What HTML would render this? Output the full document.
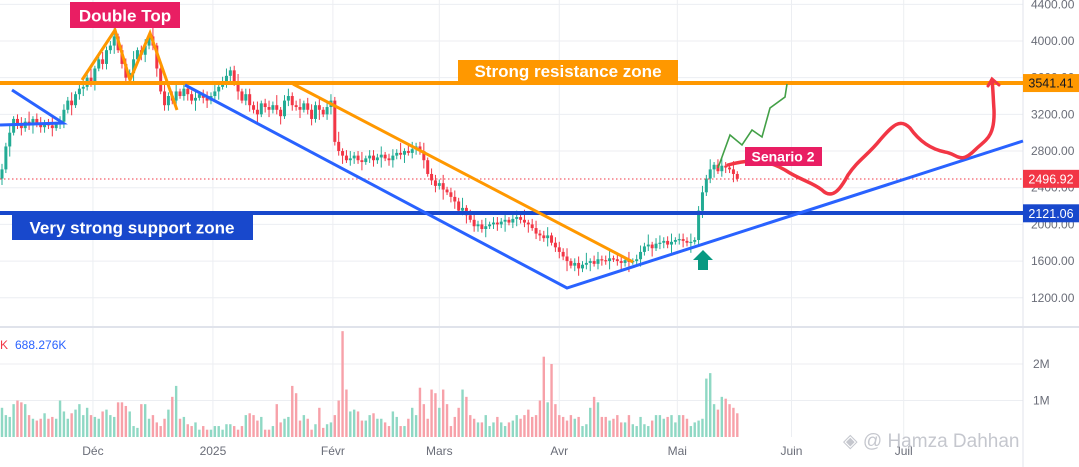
<!DOCTYPE html>
<html><head><meta charset="utf-8">
<style>
body{margin:0;background:#fff;font-family:"Liberation Sans",sans-serif;}
svg{display:block}
.ax{font-size:12px;fill:#6a6d78}
</style></head>
<body>
<svg id="chart" width="1079" height="467" viewBox="0 0 1079 467">
<g id="grid"></g>
<g id="vol"></g>
<g id="candles"></g>
<g>
  <line x1="0" y1="83" x2="1023" y2="83" stroke="#ff9800" stroke-width="4"/>
  <line x1="0" y1="213" x2="1023" y2="213" stroke="#1848cc" stroke-width="4"/>
  <line x1="0" y1="179" x2="1023" y2="179" stroke="#f23645" stroke-width="1" stroke-dasharray="1.5,2.5"/>
  <polyline points="12,90 63,123 0,125" fill="none" stroke="#2962ff" stroke-width="3"/>
  <polyline points="82,80 115,30 130,80 150,33 177,110" fill="none" stroke="#ff9800" stroke-width="3"/>
  <polyline points="185,85 567,288 1023,141" fill="none" stroke="#2962ff" stroke-width="3"/>
  <line x1="293" y1="84" x2="633" y2="262" stroke="#ff9800" stroke-width="3"/>
  <polyline points="718,168 730,135 742,145 752,130 762,137 770,108 785,97 787,84" fill="none" stroke="#43a047" stroke-width="1.6"/>
  <path d="M728,165 C745,160 765,158 785,170 C800,180 812,182 822,190 C832,200 840,190 848,175 C858,160 868,155 880,140 C893,125 900,118 910,128 C922,145 935,150 945,152 C958,154 960,165 975,150 C985,140 995,138 994,110 C993,95 993,88 992,80" fill="none" stroke="#f23645" stroke-width="3.5" stroke-linecap="round"/>
  <polyline points="988,86 992,79 999,85" fill="none" stroke="#f23645" stroke-width="3" stroke-linecap="round"/>
  <polygon points="703,250 713,260 708,260 708,270 698,270 698,260 693,260" fill="#089981"/>
  <rect x="70" y="2" width="110" height="26" fill="#e91e63"/>
  <text x="125" y="21.5" text-anchor="middle" font-size="17" font-weight="bold" fill="#fff">Double Top</text>
  <rect x="458" y="60" width="220" height="22" fill="#ff9800"/>
  <text x="568" y="77" text-anchor="middle" font-size="17" font-weight="bold" fill="#fff">Strong resistance zone</text>
  <rect x="12" y="214" width="241" height="26" fill="#1848cc"/>
  <text x="132" y="233.5" text-anchor="middle" font-size="17" font-weight="bold" fill="#fff">Very strong support zone</text>
  <rect x="745" y="147" width="77" height="19" fill="#e91e63"/>
  <text x="783" y="161.5" text-anchor="middle" font-size="14" font-weight="bold" fill="#fff">Senario 2</text>
</g>
<g id="axis"></g>
<text x="0" y="349" font-size="12" fill="#f23645">K</text>
<text x="15" y="349" font-size="12" fill="#2962ff">688.276K</text>
<text x="843" y="447" font-size="19" fill="#b2b5be" opacity="0.75">◈ @ Hamza Dahhan</text>
</svg>
<script>
const closes=[2600,2850,3000,3150,3100,3050,3120,3080,3150,3090,3060,3100,3080,3050,3090,3120,3250,3350,3300,3420,3480,3500,3600,3550,3700,3800,3750,3900,3950,4050,3900,3750,3600,3650,3800,3900,3850,3950,4050,3950,3700,3450,3300,3400,3350,3450,3400,3480,3420,3350,3380,3420,3380,3350,3400,3450,3500,3550,3620,3680,3550,3450,3350,3420,3300,3250,3200,3320,3280,3250,3300,3250,3180,3350,3400,3300,3280,3250,3320,3250,3150,3300,3250,3200,3280,3350,2900,2800,2750,2700,2720,2750,2700,2680,2720,2750,2700,2730,2760,2720,2700,2750,2780,2760,2800,2780,2820,2850,2800,2700,2550,2480,2420,2450,2380,2350,2300,2250,2150,2180,2100,2050,1980,2000,1950,1980,2000,2020,2000,2030,2050,2020,2060,2080,2050,2020,2000,1960,1900,1880,1850,1880,1800,1750,1700,1650,1600,1550,1580,1520,1560,1580,1600,1570,1620,1610,1600,1630,1620,1600,1580,1610,1590,1600,1620,1700,1760,1780,1740,1790,1800,1820,1780,1810,1830,1840,1820,1800,1810,1830,2150,2350,2500,2600,2650,2580,2640,2620,2600,2550,2497];
const wicks=[60,40,90,30,50,70,40,110,30,60,80,40,50,90,30,60];
const volumes=[0.8,0.6,0.55,0.9,1.0,0.95,0.9,0.6,0.5,0.45,0.5,0.65,0.5,0.55,0.5,1.0,0.7,0.5,0.65,0.75,0.9,0.6,0.8,0.6,0.55,0.5,0.7,0.75,0.6,0.55,0.95,0.95,0.85,0.7,0.3,0.25,0.9,0.9,0.5,0.6,0.4,0.3,0.5,0.75,1.1,1.4,0.5,0.55,0.35,0.3,0.4,0.2,0.3,0.2,0.2,0.3,0.3,0.2,0.35,0.35,0.3,0.2,0.3,0.6,0.65,0.6,0.45,0.55,0.2,0.2,0.3,0.9,0.4,0.5,0.55,1.4,1.2,0.45,0.6,0.5,0.2,0.35,0.8,0.25,0.35,0.4,0.6,1.0,2.9,1.3,0.7,0.75,0.7,0.45,0.45,0.6,0.65,0.5,0.5,0.4,0.3,0.7,0.55,0.3,0.3,0.5,0.8,0.6,1.35,0.9,0.5,1.3,1.2,0.8,1.3,0.9,0.3,0.55,0.8,1.3,1.1,0.6,0.5,0.4,0.4,0.6,0.3,0.4,0.55,0.4,0.3,0.4,0.45,0.6,0.5,0.6,0.75,0.55,0.6,1.0,2.2,0.95,2.0,0.9,0.6,0.55,0.45,0.6,0.5,0.55,0.3,0.35,0.8,1.1,0.95,0.55,0.55,0.45,0.5,0.6,0.4,0.4,0.6,0.35,0.3,0.55,0.35,0.3,0.45,0.6,0.6,0.5,0.55,0.6,0.4,0.6,0.6,0.5,0.3,0.4,0.45,0.5,1.6,1.75,0.9,0.75,1.1,1.05,0.9,0.8,0.65,0.45];
const priceTicks=[4400,4000,3600,3200,2800,2400,2000,1600,1200];
const volTicks=[1,2];
const volTickLabels=["1M","2M"];
const monthLabels=["Déc","2025","Févr","Mars","Avr","Mai","Juin","Juil"];
const monthBarIdx=[23.5,54.5,85.5,113,144,174.5,204,233];

const NS="http://www.w3.org/2000/svg";
const PLOT_R=1023;
const yP=p=>41+(4000-p)*0.0917;
const yV=v=>437-v*36.5;
const xB=i=>2+i*3.87;
function mk(tag,attrs,parent){const e=document.createElementNS(NS,tag);for(const k in attrs)e.setAttribute(k,attrs[k]);parent.appendChild(e);return e;}
const grid=document.getElementById('grid'),axis=document.getElementById('axis'),cg=document.getElementById('candles'),vg=document.getElementById('vol');
priceTicks.forEach(p=>{const l=mk('line',{x1:0,x2:PLOT_R,y1:yP(p),y2:yP(p),stroke:'#eceef2'},grid);

});
volTicks.forEach(v=>{const l=mk('line',{x1:0,x2:PLOT_R,y1:yV(v),y2:yV(v),stroke:'#eceef2'},grid);

});
monthBarIdx.forEach(i=>{const l=mk('line',{x1:xB(i),x2:xB(i),y1:0,y2:437,stroke:'#eceef2'},grid);

});
const sep=mk('line',{x1:0,x2:1079,y1:327,y2:327,stroke:'#e0e3eb',"stroke-width":2},grid);


const ax=mk('line',{x1:PLOT_R,x2:PLOT_R,y1:0,y2:467,stroke:'#e0e3eb'},grid);


closes.forEach((c,i)=>{
  const o=i?closes[i-1]:2500;const up=c>=o;
  const w=wicks[i%wicks.length];
  const hi=Math.max(o,c)+w,lo=Math.min(o,c)-wicks[(i+5)%wicks.length];
  const col=up?'#22ab94':'#f23645';const x=xB(i);
  const wl=mk('line',{x1:x,x2:x,y1:yP(hi),y2:yP(lo),stroke:col,"stroke-width":1},cg);
  
  
  const yt=yP(Math.max(o,c)),yb=yP(Math.min(o,c));
  const b=mk('rect',{x:x-1.5,y:yt,width:3,height:Math.max(1.2,yb-yt),fill:col},cg);
  
  
  if(volumes[i]!==undefined){
    const vb=mk('rect',{x:x-1.2,y:yV(volumes[i]),width:2.4,height:437-yV(volumes[i]),fill:up?'#8fd8c4':'#f7a1a9'},vg);
    
    
  }
});
priceTicks.forEach(p=>{const t=mk('text',{x:1031,y:yP(p)+4,class:'ax'},axis);t.textContent=p.toFixed(2);

});
volTicks.forEach((v,k)=>{const t=mk('text',{x:1033,y:yV(v)+4,class:'ax'},axis);t.textContent=volTickLabels[k];

});
monthLabels.forEach((m,k)=>{const t=mk('text',{x:xB(monthBarIdx[k]),y:455,class:'ax',"text-anchor":"middle"},axis);t.textContent=m;

});
[[3541.41,'#ff9800','#131722'],[2496.92,'#f23645','#fff'],[2121.06,'#1848cc','#fff']].forEach(([p,bg,fg])=>{
  const r=mk('rect',{x:PLOT_R,y:yP(p)-9,width:56,height:18,fill:bg},axis);
  
  
  const t=mk('text',{x:1051,y:yP(p)+4.5,"text-anchor":"middle","font-size":12.5,fill:fg},axis);t.textContent=p.toFixed(2);
  
  
});
</script>
</body></html>
